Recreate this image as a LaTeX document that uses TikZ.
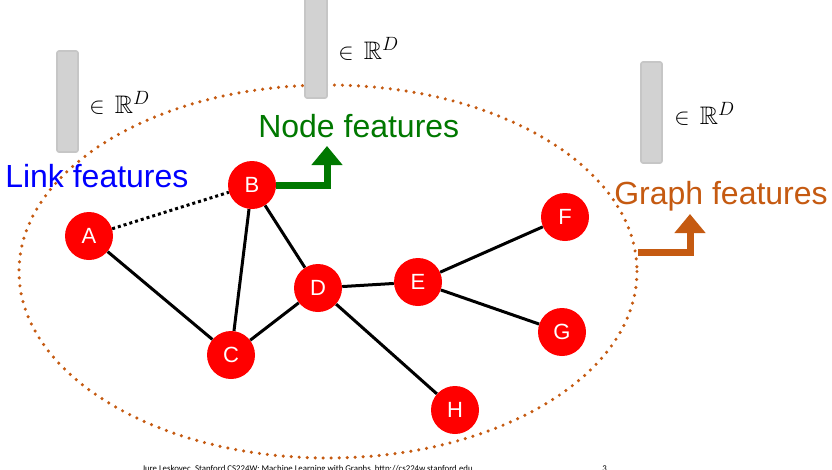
\documentclass[tikz,border=0pt]{standalone}
\usepackage{amssymb}
\usepackage{fontspec}
\setmainfont{Liberation Sans}
\newfontfamily\footfont{Carlito}
\usetikzlibrary{arrows.meta}
\definecolor{vred}{RGB}{255,0,0}
\definecolor{gfeat}{RGB}{0,120,0}
\definecolor{ofeat}{RGB}{197,90,17}
\definecolor{lfeat}{RGB}{0,0,255}
\definecolor{barfill}{RGB}{210,210,210}
\definecolor{barline}{RGB}{198,198,198}
\tikzset{
  vertex/.style={circle, fill=vred, inner sep=0pt, minimum size=36pt,
    text=white, font=\fontsize{16.5}{18}\selectfont},
  edge/.style={line width=2.25pt, black},
  linkedge/.style={edge, dash pattern=on 2.25pt off 2.25pt},
  boundary/.style={ofeat, line width=2.6pt, line cap=round, dash pattern=on 0pt off 6pt},
  featlabel/.style={anchor=base west, inner sep=0pt, font=\fontsize{24}{26}\selectfont},
  vecbar/.style={fill=barfill, draw=barline, line width=1.2pt, rounded corners=1.5pt},
  dimlabel/.style={anchor=base west, inner sep=0pt, font=\fontsize{19}{22}\selectfont},
  bentarrow/.style={line width=5.25pt, -{Triangle[width=22.5pt,length=14.25pt]}},
  footer/.style={anchor=base west, inner sep=0pt, font=\footfont\fontsize{6.6}{7}\selectfont},
}
\begin{document}
\begin{tikzpicture}[x=0.75pt, y=-0.75pt]
\useasboundingbox (0,0) rectangle (832,469);

% graph boundary
\draw[boundary] (328,271.5) ellipse [x radius=309, y radius=186.5];

% feature vectors
\draw[vecbar] (57,51) rectangle (78,152);
\draw[vecbar] (305,-2) rectangle (327,98);
\draw[vecbar] (641,62) rectangle (662,163);
\node[dimlabel] (dl) at (89,113) {$\in\,\mathbb{R}^{D}$};
\node[dimlabel] (dn) at (338,59) {$\in\,\mathbb{R}^{D}$};
\node[dimlabel] (dg) at (674,124) {$\in\,\mathbb{R}^{D}$};

% feature labels
\node[featlabel, text=lfeat] (lf) at (5,187) {Link features};
\node[featlabel, text=gfeat] (nf) at (258,137) {Node features};
\node[featlabel, text=ofeat] (gf) at (614,204) {Graph features};

% vertices
\node[vertex] (A) at (89,236) {A};
\node[vertex] (B) at (252,185) {B};
\node[vertex] (C) at (231,355) {C};
\node[vertex] (D) at (318,288) {D};
\node[vertex] (E) at (418,282) {E};
\node[vertex] (F) at (565,217) {F};
\node[vertex] (G) at (562,332) {G};
\node[vertex] (H) at (455,410) {H};

% edges
\draw[linkedge] (A) -- (B);
\draw[edge] (A) -- (C);
\draw[edge] (B) -- (C);
\draw[edge] (B) -- (D);
\draw[edge] (C) -- (D);
\draw[edge] (D) -- (E);
\draw[edge] (D) -- (H);
\draw[edge] (E) -- (F);
\draw[edge] (E) -- (G);

% arrows to the feature labels
\coordinate (ntip) at (327,146);
\draw[bentarrow, gfeat] (B.east) -| (ntip);
\coordinate (gstart) at (638,252.5);
\coordinate (gtip) at (690,214);
\draw[bentarrow, ofeat] (gstart) -| (gtip);

% footer
\node[footer] (foot) at (142,471.5)
  {Jure Leskovec, Stanford CS224W: Machine Learning with Graphs, http://cs224w.stanford.edu};
\node[footer] (pg) at (602,471.5) {3};
\end{tikzpicture}
\end{document}
